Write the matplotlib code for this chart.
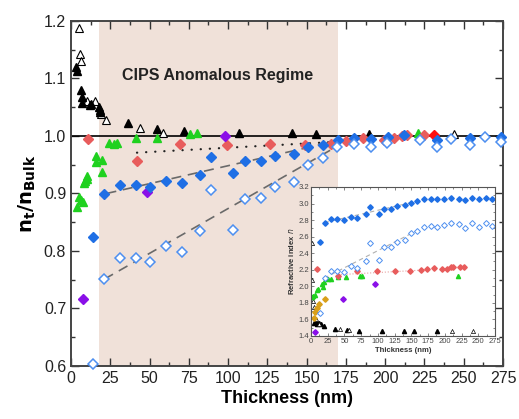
import numpy as np
import matplotlib
matplotlib.use("Agg")
import matplotlib.pyplot as plt
from matplotlib.ticker import MultipleLocator, FormatStrFormatter

plt.rcParams['font.family'] = ['Liberation Sans', 'DejaVu Sans']

# ---- main panel data (n_t / n_bulk vs thickness) ----
open_tri_x = [5.3, 5.7, 6.6, 10.0, 15.5, 19.0, 22.0, 44.0, 58.6, 244.0]
open_tri_y = [1.188, 1.142, 1.130, 1.061, 1.060, 1.038, 1.027, 1.014, 1.005, 1.003]

fill_tri_x = [3.5, 4.0, 6.4, 6.8, 7.2, 12.0, 12.5, 18.0, 18.4, 18.6, 36.0, 55.0, 72.0, 107.0, 140.5, 156.0, 190.0]
fill_tri_y = [1.120, 1.113, 1.080, 1.067, 1.057, 1.054, 1.056, 1.050, 1.045, 1.041, 1.023, 1.013, 1.008, 1.006, 1.005, 1.003, 1.003]

green_x = [4.0, 5.3, 6.6, 7.8, 8.3, 9.1, 10.4, 10.4, 15.9, 15.9, 19.7, 19.7, 24.4, 27.5, 29.4, 41.3, 54.5, 75.7, 80.3, 221.0]
green_y = [0.877, 0.894, 0.889, 0.885, 0.918, 0.922, 0.926, 0.931, 0.966, 0.954, 0.959, 0.938, 0.988, 0.986, 0.988, 0.996, 0.996, 1.003, 1.005, 1.005]

purple_x = [7.4, 48.5, 98.0]
purple_y = [0.716, 0.902, 1.000]

red_x = [10.6, 42.2, 69.7, 99.0, 126.5, 149.0, 165.7, 175.0, 186.0, 199.0, 205.5, 211.0, 214.0, 225.0]
red_y = [0.995, 0.957, 0.986, 0.985, 0.986, 0.984, 0.986, 0.991, 0.996, 0.993, 0.996, 1.000, 1.002, 1.002]
bright_red_x = [231.0]
bright_red_y = [1.002]

blue_x = [13.7, 21.2, 31.4, 41.1, 50.2, 60.2, 70.4, 82.4, 89.4, 103.2, 110.6, 121.2, 129.7, 142.0,
          150.9, 160.4, 170.0, 180.0, 191.0, 201.7, 212.0, 233.0, 254.0, 273.8]
blue_y = [0.824, 0.899, 0.915, 0.915, 0.912, 0.922, 0.919, 0.933, 0.963, 0.935, 0.957, 0.957, 0.965, 0.969,
          0.980, 0.984, 0.993, 0.996, 0.994, 0.998, 1.002, 0.993, 0.996, 0.998]

blue_open_x = [13.7, 21.2, 31.4, 41.1, 50.2, 60.2, 70.4, 82.4, 89.4, 103.2, 111.0, 121.2, 129.7, 142.0,
               151.0, 160.6, 169.5, 180.0, 191.0, 201.0, 222.0, 233.0, 242.0, 254.0, 263.6, 273.8]
blue_open_y = [0.603, 0.751, 0.788, 0.788, 0.781, 0.808, 0.798, 0.834, 0.906, 0.837, 0.890, 0.892, 0.911, 0.920,
               0.950, 0.961, 0.981, 0.986, 0.981, 0.987, 0.993, 0.980, 0.994, 0.984, 0.999, 0.990]

# guide lines
dot_x, dot_y = [42.0, 170.0], [0.971, 0.990]
dash1_x, dash1_y = [22.6, 170.0], [0.900, 0.992]
dash2_x, dash2_y = [21.2, 170.0], [0.751, 0.983]

# ---- inset data (refractive index n vs thickness) ----
in_blue_x = [13.3, 20.7, 29.6, 39.5, 49.4, 59.3, 69.1, 81.5, 88.4, 101.2, 109.6, 119.5, 128.4, 140.7,
             149.1, 159.0, 168.9, 178.8, 188.6, 199.5, 209.4, 220.7, 230.6, 240.5, 250.4, 261.2, 270.1]
in_blue_y = [2.53, 2.76, 2.81, 2.81, 2.80, 2.84, 2.82, 2.87, 2.96, 2.87, 2.94, 2.94, 2.97, 2.98,
             3.01, 3.03, 3.05, 3.05, 3.05, 3.05, 3.07, 3.06, 3.04, 3.07, 3.05, 3.07, 3.06]
in_bopen_x = [13.3, 20.7, 29.6, 39.5, 49.4, 59.3, 69.1, 81.5, 88.4, 101.2, 109.6, 119.5, 128.4, 140.7,
              149.1, 159.0, 168.9, 178.8, 188.6, 199.5, 209.4, 220.7, 230.6, 240.5, 250.4, 261.2, 270.1]
in_bopen_y = [1.68, 2.10, 2.19, 2.19, 2.17, 2.24, 2.22, 2.31, 2.52, 2.32, 2.47, 2.47, 2.53, 2.56,
              2.64, 2.67, 2.72, 2.73, 2.72, 2.74, 2.77, 2.75, 2.71, 2.76, 2.72, 2.76, 2.73]
in_red_x = [9.4, 40.5, 68.6, 98.3, 126.0, 147.7, 164.0, 172.8, 183.7, 196.0, 203.5, 209.4, 212.3, 222.2, 229.1]
in_red_y = [2.21, 2.13, 2.19, 2.19, 2.19, 2.19, 2.20, 2.21, 2.22, 2.21, 2.21, 2.23, 2.23, 2.23, 2.23]
in_green_x = [2.0, 3.5, 6.0, 8.4, 10.8, 15.8, 17.3, 19.3, 25.7, 30.6, 40.5, 52.8, 72.6, 76.5, 219.3]
in_green_y = [1.87, 1.88, 1.89, 1.95, 1.97, 2.03, 1.99, 2.05, 2.09, 2.09, 2.11, 2.11, 2.12, 2.13, 2.12]
in_gold_x = [4.4, 5.9, 8.4, 12.3, 20.7]
in_gold_y = [1.62, 1.69, 1.74, 1.79, 1.85]
in_purple_x = [5.9, 47.9, 96.3]
in_purple_y = [1.45, 1.85, 2.03]
in_bfill_x = [5.0, 7.0, 9.0, 12.0, 15.0, 20.0, 35.6, 53.8, 71.6, 105.7, 139.3, 154.0, 187.7]
in_bfill_y = [1.56, 1.58, 1.55, 1.56, 1.54, 1.52, 1.48, 1.47, 1.46, 1.46, 1.46, 1.46, 1.46]
in_bopen_tri_x = [1.0, 1.0, 3.0, 5.0, 8.0, 12.0, 43.0, 56.3, 211.0, 241.5]
in_bopen_tri_y = [2.52, 2.08, 1.82, 1.75, 1.60, 1.55, 1.48, 1.47, 1.46, 1.46]
in_dash1_x, in_dash1_y = [20.0, 165.0], [2.77, 3.04]
in_dash2_x, in_dash2_y = [20.0, 160.0], [2.10, 2.68]
in_dot_x, in_dot_y = [40.0, 175.0], [2.14, 2.20]

BLUE = '#1f6fe5'
BLUE_OPEN = '#4d8ff0'
RED = '#e85c5c'
GREEN = '#1fd11f'
PURPLE = '#8a10e8'
GOLD = '#d9a01a'

fig = plt.figure(figsize=(5.19, 4.19), dpi=100)
ax = fig.add_axes([0.1368, 0.1265, 0.8324, 0.8234])

ax.axvspan(18, 170, color='#f0e1d9', zorder=0, lw=0)
ax.axhline(1.0, color='black', lw=1.2, zorder=2)

ax.plot(dot_x, dot_y, color='#222222', lw=1.6, dashes=(0.1, 4.0), dash_capstyle='round', zorder=2)
ax.plot(dash1_x, dash1_y, '--', color='#6a6a6a', lw=1.2, dashes=(6, 4), zorder=2)
ax.plot(dash2_x, dash2_y, '--', color='#6a6a6a', lw=1.2, dashes=(6, 4), zorder=2)

kw = dict(linestyle='none', clip_on=False, zorder=3)
ax.plot(open_tri_x, open_tri_y, '^', mfc='white', mec='black', mew=0.8, ms=6, **kw)
ax.plot(fill_tri_x, fill_tri_y, '^', color='black', ms=6, **kw)
ax.plot(green_x, green_y, '^', color=GREEN, ms=6, **kw)
ax.plot(red_x, red_y, 'D', color=RED, ms=5, **kw)
ax.plot(bright_red_x, bright_red_y, 'D', color='#ff1010', ms=5, **kw)
ax.plot(purple_x, purple_y, 'D', color=PURPLE, ms=5, **kw)
ax.plot(blue_x, blue_y, 'D', color=BLUE, ms=5, **kw)
ax.plot(blue_open_x, blue_open_y, 'D', mfc='white', mec=BLUE_OPEN, mew=1.1, ms=5, **kw)

ax.text(93, 1.106, 'CIPS Anomalous Regime', fontsize=11.5, fontweight='bold',
        color='#222222', ha='center', va='center')

ax.set_xlim(0, 275)
ax.set_ylim(0.6, 1.2)
ax.xaxis.set_major_locator(MultipleLocator(25))
ax.xaxis.set_minor_locator(MultipleLocator(12.5))
ax.yaxis.set_major_locator(MultipleLocator(0.1))
ax.yaxis.set_minor_locator(MultipleLocator(0.05))
ax.yaxis.set_major_formatter(FormatStrFormatter('%.1f'))
ax.tick_params(which='both', direction='in', top=True, right=True, colors='#333333',
               labelcolor='#222222', labelsize=11.5, width=1.0)
ax.tick_params(which='major', length=6)
ax.tick_params(which='minor', length=3)
for s in ax.spines.values():
    s.set_linewidth(1.4)
    s.set_color('#444444')
ax.set_xlabel('Thickness (nm)', fontsize=13, fontweight='bold', labelpad=3)
ax.set_ylabel(r'$\mathbf{n_t/n_{Bulk}}$', fontsize=14, labelpad=4)

# ---- inset ----
ins = fig.add_axes([0.5992, 0.1981, 0.3545, 0.3556])
ins.set_facecolor('white')
ins.plot(in_dash1_x, in_dash1_y, '--', color='#b0b0b0', lw=0.8, dashes=(4, 3))
ins.plot(in_dash2_x, in_dash2_y, '--', color='#b0b0b0', lw=0.8, dashes=(4, 3))
ins.plot(in_dot_x, in_dot_y, ':', color='#e8a0a0', lw=0.8)
ikw = dict(linestyle='none', ms=3)
ins.plot(in_bfill_x, in_bfill_y, '^', color='black', **ikw)
ins.plot(in_bopen_tri_x, in_bopen_tri_y, '^', mfc='white', mec='black', mew=0.5, **ikw)
ins.plot(in_green_x, in_green_y, '^', color=GREEN, **ikw)
ins.plot(in_gold_x, in_gold_y, 'D', color=GOLD, ms=2.8, linestyle='none')
ins.plot(in_purple_x, in_purple_y, 'D', color=PURPLE, ms=2.8, linestyle='none')
ins.plot(in_red_x, in_red_y, 'D', color=RED, ms=2.8, linestyle='none')
ins.plot(in_blue_x, in_blue_y, 'D', color=BLUE, ms=2.8, linestyle='none')
ins.plot(in_bopen_x, in_bopen_y, 'D', mfc='white', mec=BLUE_OPEN, mew=0.7, ms=3, linestyle='none')

ins.set_xlim(0, 275)
ins.set_ylim(1.4, 3.2)
ins.xaxis.set_major_locator(MultipleLocator(25))
ins.xaxis.set_minor_locator(MultipleLocator(12.5))
ins.yaxis.set_major_locator(MultipleLocator(0.2))
ins.yaxis.set_minor_locator(MultipleLocator(0.1))
ins.yaxis.set_major_formatter(FormatStrFormatter('%.1f'))
ins.tick_params(which='both', direction='in', top=True, right=True, colors='#555555',
                labelcolor='#444444', labelsize=5.5, width=0.5, pad=1.5)
ins.tick_params(which='major', length=2.5)
ins.tick_params(which='minor', length=1.3)
for s in ins.spines.values():
    s.set_linewidth(0.8)
    s.set_color('#555555')
ins.set_xlabel('Thickness (nm)', fontsize=5.5, fontweight='bold', color='#333333', labelpad=1.5)
ins.set_ylabel(r'Refractive index $\mathit{n}$', fontsize=5.5, fontweight='bold', color='#333333', labelpad=1.5)

fig.savefig('out.png', dpi=100)
